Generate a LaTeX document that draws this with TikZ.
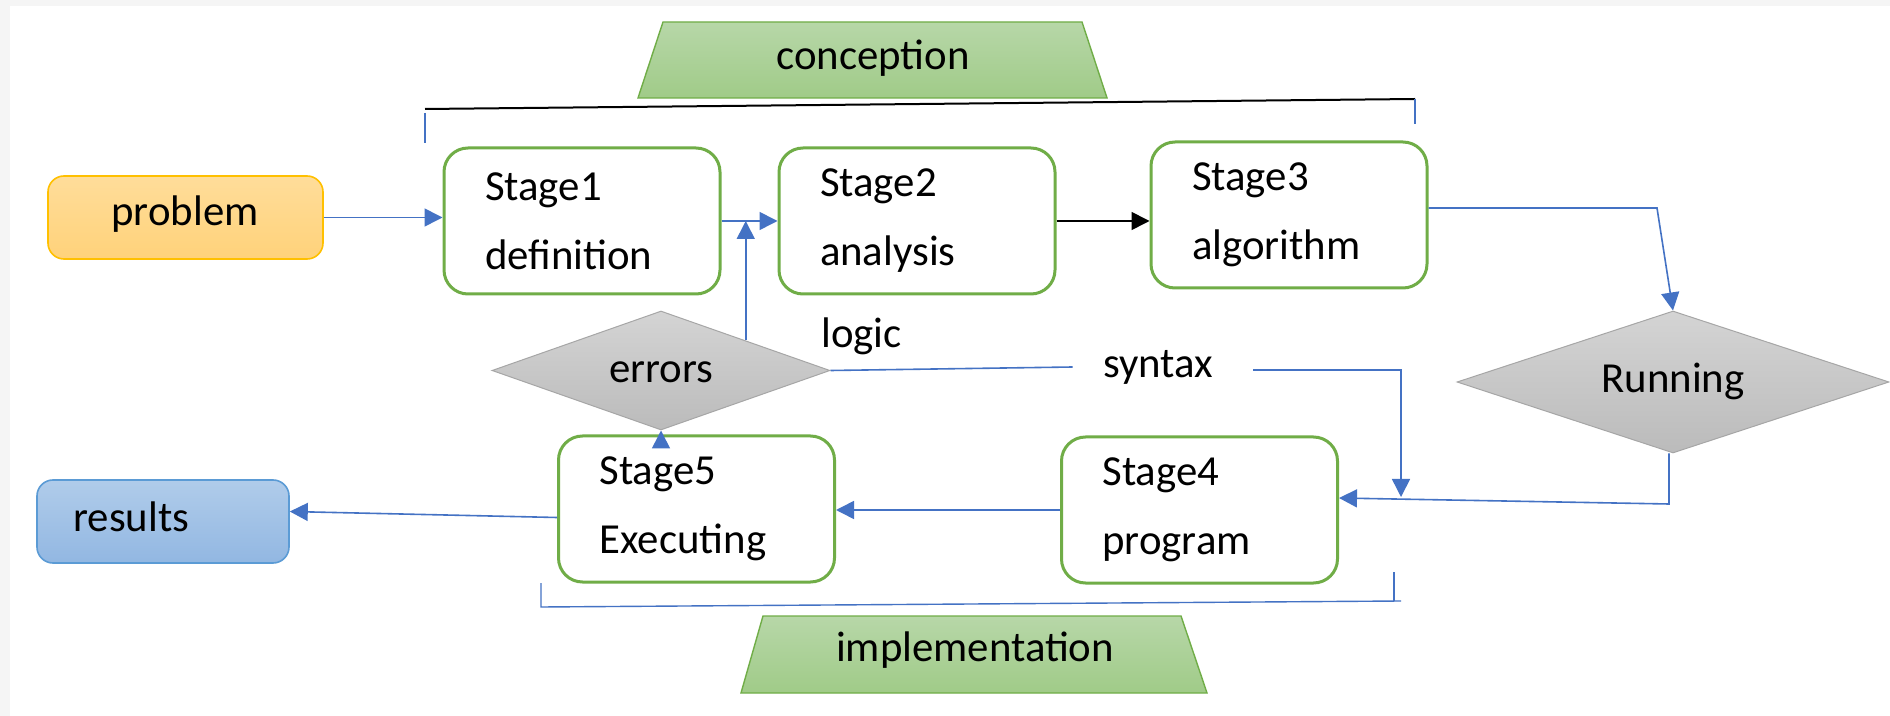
\documentclass[tikz,border=0pt]{standalone}
\usepackage{fontspec}
\setmainfont{Carlito}
\usetikzlibrary{arrows.meta,shapes.geometric}
\definecolor{gline}{HTML}{70AD47}
\definecolor{bline}{HTML}{4472C4}
\definecolor{probTop}{HTML}{FFDD9A}
\definecolor{probBot}{HTML}{FFD27A}
\definecolor{probLine}{HTML}{FFC000}
\definecolor{resTop}{HTML}{B0CCEA}
\definecolor{resBot}{HTML}{92B7E2}
\definecolor{resLine}{HTML}{5B9BD5}
\definecolor{diaTop}{HTML}{D4D4D4}
\definecolor{diaBot}{HTML}{BBBBBB}
\definecolor{diaLine}{HTML}{A6A6A6}
\definecolor{trapTop}{HTML}{B7D7A8}
\definecolor{trapBot}{HTML}{A0CB88}
\definecolor{frame}{HTML}{F5F5F5}
\begin{document}
\begin{tikzpicture}[x=0.5pt,y=-0.5pt,
  font=\fontsize{21.4pt}{25.7pt}\selectfont,
  stagebox/.style={draw=gline, line width=1.5pt, rounded corners=12pt, fill=white,
    minimum width=138pt, minimum height=73pt, text width=97pt, inner xsep=20.5pt,
    inner ysep=0pt, align=left},
  termbox/.style={rounded corners=8pt, line width=0.8pt, minimum width=137.5pt,
    minimum height=41.5pt, inner sep=0pt},
  decision/.style={shape=diamond, draw=diaLine, line width=0.5pt, top color=diaTop,
    bottom color=diaBot, inner sep=0pt},
  trap/.style={draw=gline, line width=0.7pt, top color=trapTop, bottom color=trapBot},
  arr/.style={draw=bline, line width=0.8pt, -{Triangle[length=9pt,width=9pt]}},
  barr/.style={draw=black, line width=0.8pt, -{Triangle[length=9pt,width=9pt]}},
  bracket/.style={draw=bline, line width=0.7pt},
  lbl/.style={inner sep=0pt}
]
\useasboundingbox (0,0) rectangle (1890,716);
\fill[white] (0,0) rectangle (1890,716);
\fill[frame] (0,0) rectangle (1890,6);
\fill[frame] (0,0) rectangle (10,716);

% conception banner
\draw[trap] (638,98) -- (663,22) -- (1082,22) -- (1107,98) -- cycle;
\node[lbl] (concept) at (873,58) {conception};
\coordinate (cL) at (425,109);
\coordinate (cR) at (1415,99);
\draw[black, line width=1pt] (cL) -- (cR);
\draw[bracket] ([yshift=-2pt]cL) -- (425,143);
\draw[bracket] (cR) -- (1415,124);

% implementation banner
\draw[trap] (741,693) -- (763,616) -- (1181,616) -- (1207,693) -- cycle;
\node[lbl] (impl) at (975,650) {implementation};
\coordinate (iL) at (541,607);
\coordinate (iR) at (1401,601);
\draw[bracket] (541,583) -- (iL) -- (iR);
\draw[bracket] (1394,572) -- (1394,601);

% terminals
\node[termbox, draw=probLine, top color=probTop, bottom color=probBot] (prob) at (185.5,217.5) {};
\node[lbl] (probtxt) at (185,214) {problem};
\node[termbox, draw=resLine, top color=resTop, bottom color=resBot, minimum width=126pt] (res) at (163,521.5) {};
\node[lbl, anchor=west] (restxt) at (73,517) {results};

% stages
\node[stagebox] (s1) at (582,221) {Stage1\\[8.8pt]definition};
\node[stagebox] (s2) at (917,221) {Stage2\\[8.8pt]analysis};
\node[stagebox] (s3) at (1289,215) {Stage3\\[8.8pt]algorithm};
\node[stagebox] (s5) at (696.5,509) {Stage5\\[8.8pt]Executing};
\node[stagebox] (s4) at (1199.5,510) {Stage4\\[8.8pt]program};

% decisions
\node[decision, minimum width=169pt, minimum height=59.5pt] (err) at (661,370.5) {};
\node[lbl] (errtxt) at (661,372) {errors};
\node[decision, minimum width=216pt, minimum height=71pt] (run) at (1673,382) {};
\node[lbl] (runtxt) at (1673,381) {Running};

% labels
\node[lbl, anchor=west] (logic) at (821,336) {logic};
\node[lbl, inner xsep=15pt] (syn) at (1158,367) {syntax};

% connectors
\draw[arr] (prob.east) -- (s1.west |- prob.east);
\draw[arr] (s1.east) -- (s2.west);
\draw[arr] (err.north east) -- (err.north east |- s1.east);
\draw[barr] (s2.east) -- (s3.west |- s2.east);
\coordinate (b3) at (1657,208);
\draw[arr] ([yshift=3.5pt]s3.east) -- (b3) -- (run.north);
\coordinate (b4) at (1669,504);
\draw[arr] ([xshift=-2pt]run.south) -- (b4) -- ([yshift=6pt]s4.east);
\draw[bline, line width=0.8pt] (err.east) -- (syn.west);
\coordinate (b5) at (1401,370);
\coordinate (b6) at (1401,497);
\draw[arr] ([xshift=5pt]syn.east |- b5) -- (b5) -- (b6);
\draw[arr] (s4.west) -- (s5.east |- s4.west);
\draw[arr] ([yshift=-4.25pt]s5.west) -- ([yshift=5pt]res.east);
\draw[arr] ([yshift=-6pt]err.south |- s5.north) -- (err.south);
\end{tikzpicture}
\end{document}
